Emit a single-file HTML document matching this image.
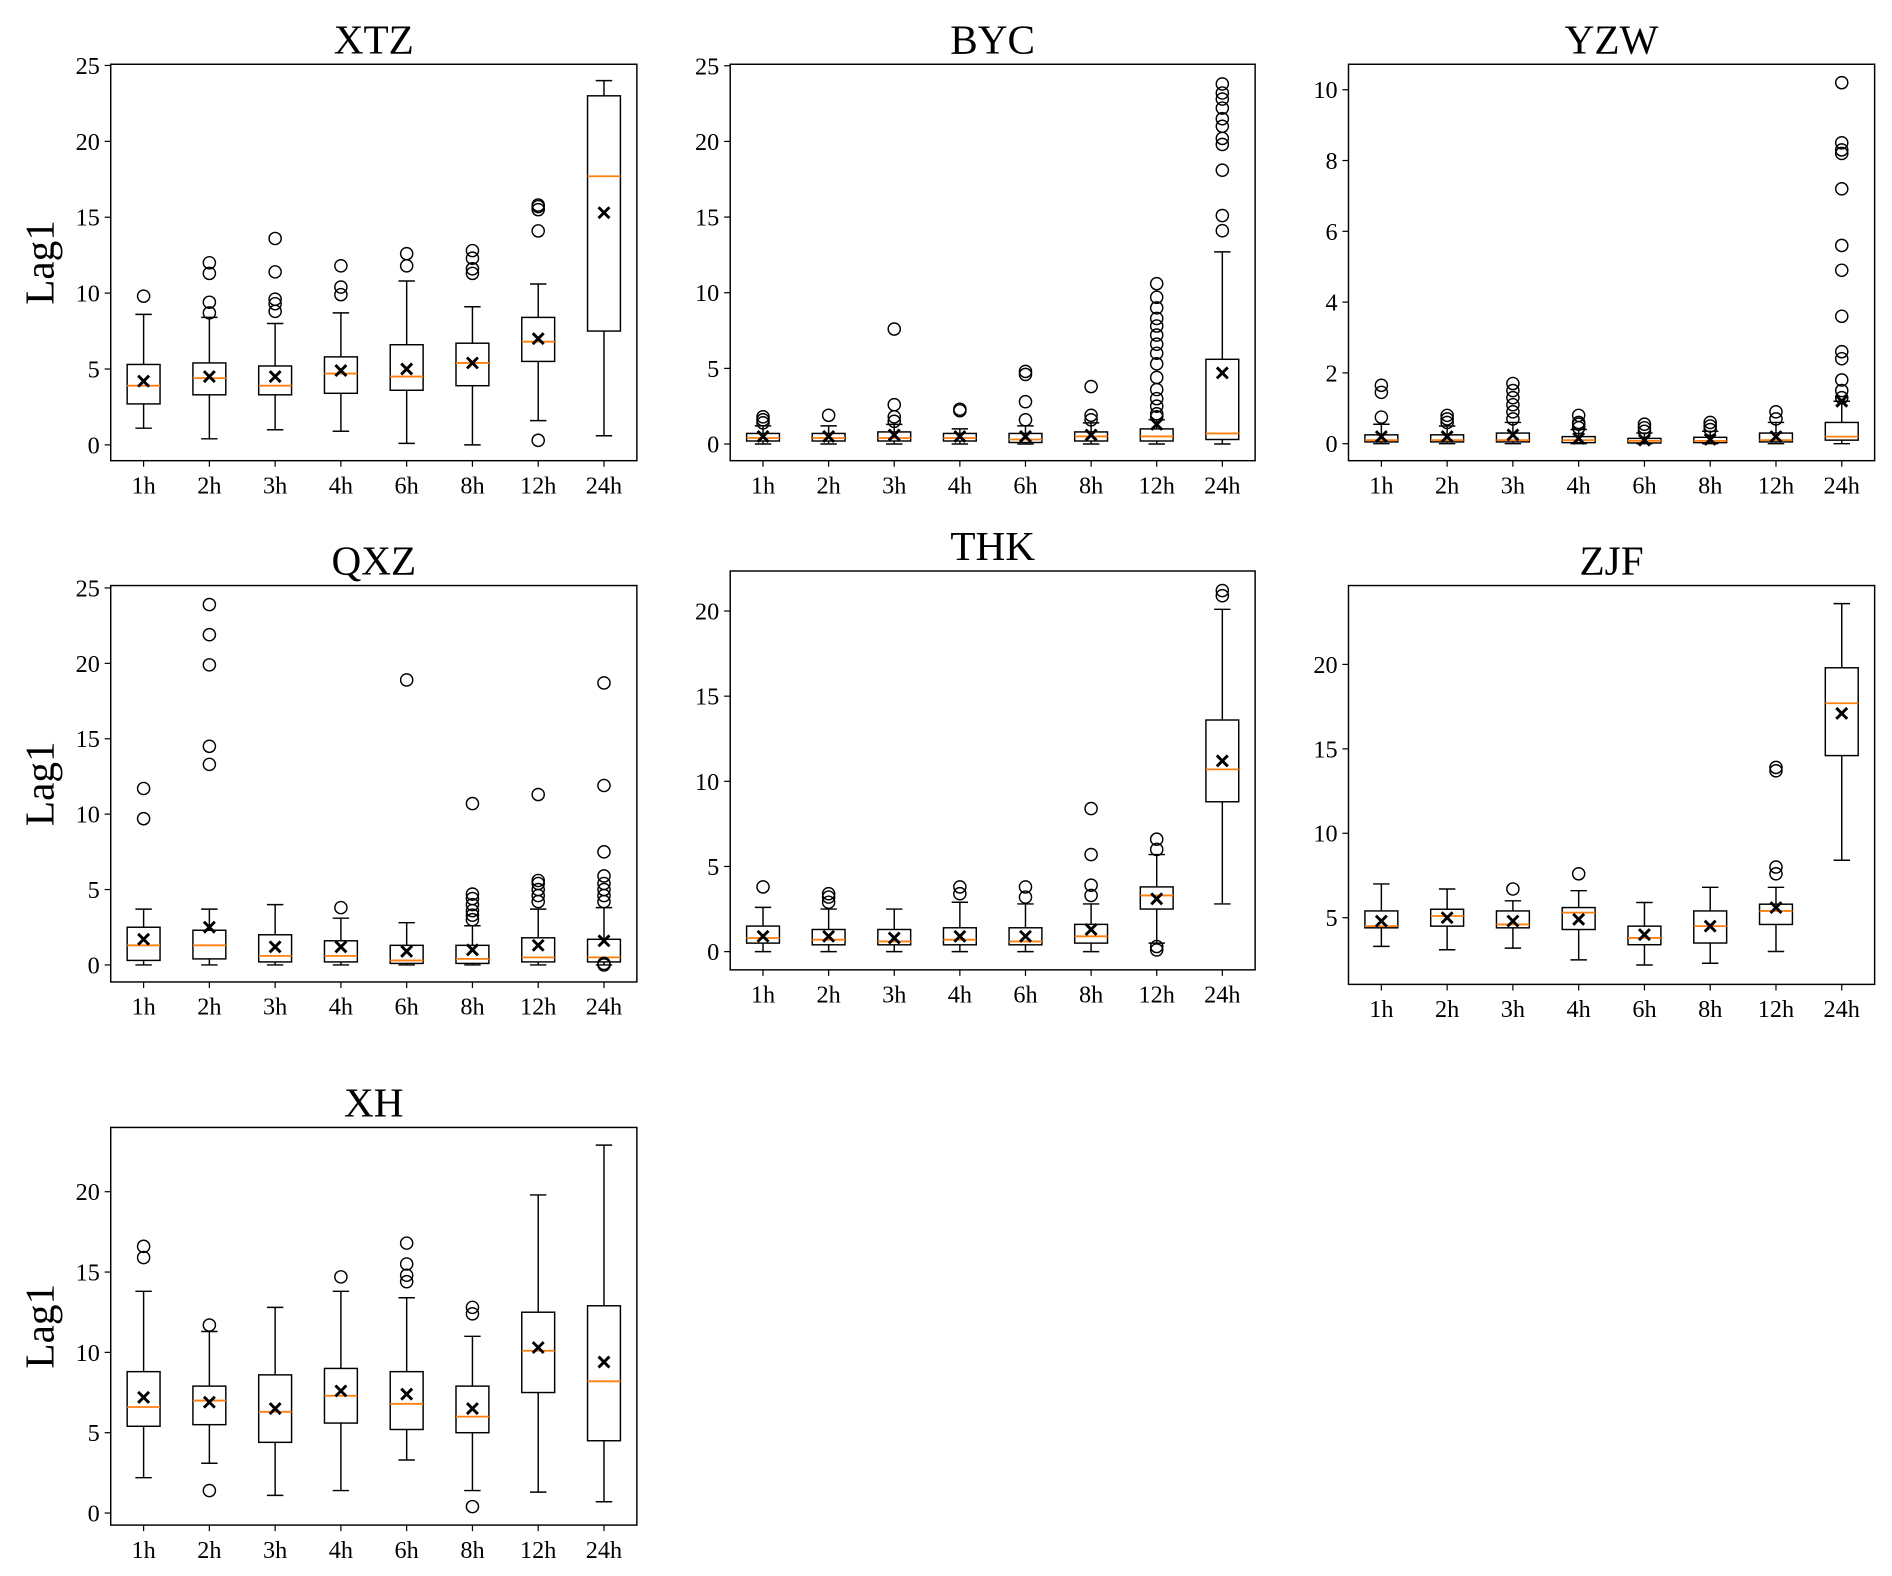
<!DOCTYPE html>
<html><head><meta charset="utf-8"><style>
html,body{margin:0;padding:0;background:#fff;}
svg{display:block;}
text{font-family:"Liberation Serif",serif;fill:#000;}
</style></head><body>
<svg id="chart" width="1892" height="1576" viewBox="0 0 1560 1300" xmlns="http://www.w3.org/2000/svg"></svg>
<script>
const categories=["1h","2h","3h","4h","6h","8h","12h","24h"];
// each stat row: [whisker-low, q1, median, q3, whisker-high, mean]
const xtzStats=[[1.1,2.7,3.9,5.3,8.6,4.2],[0.4,3.3,4.4,5.4,8.4,4.5],[1.0,3.3,3.9,5.2,8.0,4.5],[0.9,3.4,4.7,5.8,8.7,4.9],[0.1,3.6,4.5,6.6,10.8,5.0],[0.0,3.9,5.4,6.7,9.1,5.4],[1.6,5.5,6.8,8.4,10.6,7.0],[0.6,7.5,17.7,23.0,24.0,15.3]];
const xtzFliers=[[9.8],[8.7,9.4,11.3,12.0],[8.8,9.3,9.6,11.4,13.6],[9.9,10.4,11.8],[11.8,12.6],[11.3,11.6,12.3,12.8],[0.3,14.1,15.5,15.7,15.8],[]];
const bycStats=[[0,0.2,0.4,0.7,1.2,0.5],[0,0.2,0.4,0.7,1.2,0.5],[0,0.2,0.4,0.8,1.3,0.6],[0,0.2,0.4,0.7,1.0,0.5],[0,0.1,0.3,0.7,1.2,0.5],[0,0.2,0.5,0.8,1.4,0.6],[0,0.2,0.5,1.0,1.6,1.3],[0,0.3,0.7,5.6,12.7,4.7]];
const bycFliers=[[1.4,1.6,1.8],[1.9],[1.5,1.8,2.6,7.6],[2.2,2.3],[1.6,2.8,4.6,4.8],[1.6,1.9,3.8],[1.8,2.0,2.5,3.0,3.6,4.4,5.3,6.0,6.6,7.2,7.8,8.3,9.0,9.7,10.6],[14.1,15.1,18.1,19.8,20.2,21.0,21.5,22.2,22.8,23.2,23.8]];
const yzwStats=[[0,0.05,0.1,0.25,0.55,0.2],[0,0.05,0.1,0.25,0.5,0.2],[0,0.05,0.1,0.3,0.6,0.25],[0,0.03,0.1,0.2,0.4,0.15],[0,0.02,0.08,0.15,0.3,0.1],[0,0.03,0.08,0.18,0.35,0.12],[0,0.05,0.1,0.3,0.6,0.2],[0,0.1,0.2,0.6,1.2,1.2]];
const yzwFliers=[[0.75,1.45,1.65],[0.6,0.7,0.8],[0.7,0.9,1.1,1.3,1.5,1.7],[0.45,0.55,0.6,0.8],[0.35,0.45,0.55],[0.4,0.5,0.6],[0.7,0.9],[1.3,1.5,1.8,2.4,2.6,3.6,4.9,5.6,7.2,8.2,8.3,8.5,10.2]];
const qxzStats=[[0,0.3,1.3,2.5,3.7,1.7],[0,0.4,1.3,2.3,3.7,2.5],[0,0.2,0.6,2.0,4.0,1.2],[0,0.2,0.6,1.6,3.1,1.2],[0,0.1,0.3,1.3,2.8,0.9],[0,0.1,0.4,1.3,2.6,1.0],[0,0.2,0.5,1.8,3.7,1.3],[0,0.2,0.5,1.7,3.8,1.6]];
const qxzFliers=[[9.7,11.7],[13.3,14.5,19.9,21.9,23.9],[],[3.8],[18.9],[3.0,3.3,3.6,4.0,4.4,4.7,10.7],[4.2,4.6,5.0,5.4,5.6,11.3],[0.0,0.1,4.2,4.6,5.0,5.4,5.9,7.5,11.9,18.7]];
const thkStats=[[0,0.5,0.8,1.5,2.6,0.9],[0,0.4,0.7,1.3,2.5,0.9],[0,0.4,0.6,1.3,2.5,0.8],[0,0.4,0.7,1.4,2.9,0.9],[0,0.4,0.6,1.4,2.8,0.9],[0,0.5,0.9,1.6,2.8,1.3],[0.5,2.5,3.3,3.8,5.7,3.1],[2.8,8.8,10.7,13.6,20.1,11.2]];
const thkFliers=[[3.8],[2.9,3.2,3.4],[],[3.4,3.8],[3.2,3.8],[3.3,3.9,5.7,8.4],[0.1,0.3,6.0,6.6],[20.9,21.2]];
const zjfStats=[[3.3,4.4,4.5,5.4,7.0,4.8],[3.1,4.5,5.1,5.5,6.7,5.0],[3.2,4.4,4.6,5.4,6.0,4.8],[2.5,4.3,5.3,5.6,6.6,4.9],[2.2,3.4,3.8,4.5,5.9,4.0],[2.3,3.5,4.5,5.4,6.8,4.5],[3.0,4.6,5.4,5.8,6.8,5.6],[8.4,14.6,17.7,19.8,23.6,17.1]];
const zjfFliers=[[],[],[6.7],[7.6],[],[],[7.6,8.0,13.7,13.9],[]];
const xhStats=[[2.2,5.4,6.6,8.8,13.8,7.2],[3.1,5.5,7.0,7.9,11.3,6.9],[1.1,4.4,6.3,8.6,12.8,6.5],[1.4,5.6,7.3,9.0,13.8,7.6],[3.3,5.2,6.8,8.8,13.4,7.4],[1.4,5.0,6.0,7.9,11.0,6.5],[1.3,7.5,10.1,12.5,19.8,10.3],[0.7,4.5,8.2,12.9,22.9,9.4]];
const xhFliers=[[15.9,16.6],[1.4,11.7],[],[14.7],[14.4,14.8,15.5,16.8],[0.4,12.4,12.8],[],[]];
const xtzTicks=[0,5,10,15,20,25];
const bycTicks=[0,5,10,15,20,25];
const yzwTicks=[0,2,4,6,8,10];
const qxzTicks=[0,5,10,15,20,25];
const thkTicks=[0,5,10,15,20];
const zjfTicks=[5,10,15,20];
const xhTicks=[0,5,10,15,20];

const panels=[
 {t:"XTZ",x:91,y:53,w:434,h:327,lo:-1.04,hi:25.08,s:xtzStats,f:xtzFliers,k:xtzTicks,yl:true},
 {t:"BYC",x:602,y:53,w:433,h:327,lo:-1.1,hi:25.1,s:bycStats,f:bycFliers,k:bycTicks},
 {t:"YZW",x:1112,y:53,w:434,h:327,lo:-0.48,hi:10.72,s:yzwStats,f:yzwFliers,k:yzwTicks},
 {t:"QXZ",x:91,y:483,w:434,h:327,lo:-1.13,hi:25.16,s:qxzStats,f:qxzFliers,k:qxzTicks,yl:true},
 {t:"THK",x:602,y:471,w:433,h:329,lo:-1.07,hi:22.35,s:thkStats,f:thkFliers,k:thkTicks},
 {t:"ZJF",x:1112,y:483,w:434,h:329,lo:1.05,hi:24.67,s:zjfStats,f:zjfFliers,k:zjfTicks},
 {t:"XH",x:91,y:930,w:434,h:328,lo:-0.75,hi:24.0,s:xhStats,f:xhFliers,k:xhTicks,yl:true}
];
const NS="http://www.w3.org/2000/svg";
const svg=document.getElementById('chart');
function mk(tag,attrs,parent,name){const e=document.createElementNS(NS,tag);for(const a in attrs)e.setAttribute(a,attrs[a]);
 
 
 parent.appendChild(e);return e;}
panels.forEach(p=>{
 const g=mk('g',{},svg,'panel-'+p.t.toLowerCase());
 const X=i=>p.x+(i+1-0.5)/8*p.w;
 const Y=v=>p.y+p.h-(v-p.lo)/(p.hi-p.lo)*p.h;
 const bw=0.5/8*p.w, cw=0.25/8*p.w;
 const tt=mk('text',{x:p.x+p.w/2,y:p.y-9,'text-anchor':'middle','font-size':34},g,'panel-title');tt.textContent=p.t;
 if(p.yl){const yl=mk('text',{x:0,y:0,'text-anchor':'middle','font-size':34,transform:`translate(44,${p.y+p.h/2}) rotate(-90)`},g,'y-axis-title');yl.textContent="Lag1";}
 p.k.forEach(v=>{const y=Y(v);mk('line',{x1:p.x-5,x2:p.x,y1:y,y2:y,stroke:'#000','stroke-width':1},g,'y-tick');
  const l=mk('text',{x:p.x-9,y:y+7,'text-anchor':'end','font-size':20},g,'y-tick-label');l.textContent=v;});
 categories.forEach((c,i)=>{const x=X(i);mk('line',{x1:x,x2:x,y1:p.y+p.h,y2:p.y+p.h+5,stroke:'#000','stroke-width':1},g,'x-tick');
  const l=mk('text',{x:x,y:p.y+p.h+27,'text-anchor':'middle','font-size':20},g,'x-tick-label');l.textContent=c;
  const s=p.s[i];const bg=mk('g',{},g,'box-'+c);
  mk('line',{x1:x,x2:x,y1:Y(s[0]),y2:Y(s[1]),stroke:'#000','stroke-width':1.2},bg,'whisker-low');
  mk('line',{x1:x,x2:x,y1:Y(s[3]),y2:Y(s[4]),stroke:'#000','stroke-width':1.2},bg,'whisker-high');
  mk('line',{x1:x-cw/2,x2:x+cw/2,y1:Y(s[0]),y2:Y(s[0]),stroke:'#000','stroke-width':1.2},bg,'cap-low');
  mk('line',{x1:x-cw/2,x2:x+cw/2,y1:Y(s[4]),y2:Y(s[4]),stroke:'#000','stroke-width':1.2},bg,'cap-high');
  mk('rect',{x:x-bw/2,y:Y(s[3]),width:bw,height:Math.max(0.5,Y(s[1])-Y(s[3])),fill:'none',stroke:'#000','stroke-width':1.2},bg,'iqr-box');
  mk('line',{x1:x-bw/2,x2:x+bw/2,y1:Y(s[2]),y2:Y(s[2]),stroke:'#ff7f0e','stroke-width':1.5},bg,'median-line');
  p.f[i].forEach(v=>mk('circle',{cx:x,cy:Y(v),r:5,fill:'none',stroke:'#000','stroke-width':1.2},bg,'outlier'));
  const my=Y(s[5]),d=4.5;
  mk('path',{d:`M${x-d},${my-d}L${x+d},${my+d}M${x-d},${my+d}L${x+d},${my-d}`,stroke:'#000','stroke-width':2.4,fill:'none'},bg,'mean-marker');
 });
 mk('rect',{x:p.x,y:p.y,width:p.w,height:p.h,fill:'none',stroke:'#000','stroke-width':1.2},g,'plot-frame');
});
</script>
</body></html>
